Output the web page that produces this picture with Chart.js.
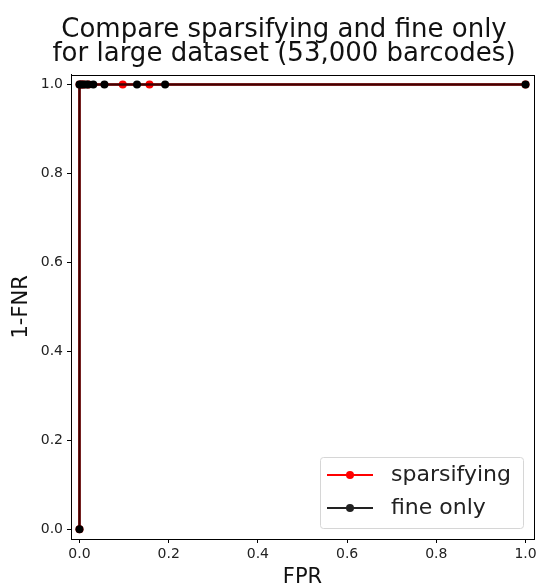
<!DOCTYPE html>
<html>
<head>
<meta charset="utf-8">
<script src="https://cdn.jsdelivr.net/npm/chart.js@4"></script>
<style>
html,body{margin:0;padding:0;background:#fff;}
#wrap{width:559px;height:588px;}
</style>
</head>
<body>
<div id="wrap"><canvas id="c" width="559" height="588"></canvas></div>
<script>
const titleLines = ["Compare sparsifying and fine only", "for large dataset (53,000 barcodes)"];
const xLabel = "FPR";
const yLabel = "1-FNR";
const tickValues = [0, 0.2, 0.4, 0.6, 0.8, 1.0];
const sparsFPR = [0, 0, 0.005, 0.01, 0.02, 0.097, 0.157, 1.0];
const sparsTPR = [0, 1, 1, 1, 1, 1, 1, 1];
const fineFPR = [0, 0, 0.004, 0.009, 0.015, 0.02, 0.031, 0.056, 0.129, 0.192, 1.0];
const fineTPR = [0, 1, 1, 1, 1, 1, 1, 1, 1, 1, 1];
const seriesNames = ["sparsifying", "fine only"];

const toPts = (xs, ys) => xs.map((x, i) => ({x: x, y: ys[i]}));
const FONT = "'DejaVu Sans', sans-serif";

const framePlugin = {
  id: 'frame',
  afterDraw(chart) {
    const {ctx, chartArea: a} = chart;
    ctx.save();
    ctx.strokeStyle = '#000';
    ctx.lineWidth = 1;
    ctx.strokeRect(Math.round(a.left) + 0.5, Math.round(a.top) + 0.5, Math.round(a.right - a.left), Math.round(a.bottom - a.top));
    // legend (matplotlib style, lower right inside axes)
    const bx = 320, by = a.bottom - 82, bw = 203, bh = 71;
    ctx.fillStyle = 'rgba(255,255,255,0.8)';
    ctx.strokeStyle = '#d6d6d6';
    ctx.lineWidth = 1;
    ctx.beginPath();
    if (ctx.roundRect) ctx.roundRect(bx + 0.5, by + 0.5, bw, bh, 3); else ctx.rect(bx + 0.5, by + 0.5, bw, bh);
    ctx.fill(); ctx.stroke();
    chart.data.datasets.forEach((ds, i) => {
      const ly = by + 18 + i * 33;
      ctx.strokeStyle = ds.legendColor;
      ctx.lineWidth = 2;
      ctx.beginPath(); ctx.moveTo(bx + 7, ly); ctx.lineTo(bx + 53, ly); ctx.stroke();
      ctx.fillStyle = ds.legendColor;
      ctx.beginPath(); ctx.arc(bx + 30, ly, 4, 0, Math.PI * 2); ctx.fill();
      ctx.fillStyle = '#222';
      ctx.font = "22px " + FONT;
      ctx.textBaseline = 'middle';
      ctx.textAlign = 'left';
      ctx.fillText(ds.label, bx + 71, ly);
    });
    ctx.restore();
  }
};

new Chart(document.getElementById('c'), {
  type: 'scatter',
  data: {
    datasets: [
      {label: seriesNames[0], data: toPts(sparsFPR, sparsTPR), showLine: true,
       borderColor: '#ff0000', backgroundColor: '#ff0000', borderWidth: 2.5,
       pointRadius: 4, pointHoverRadius: 4, pointBorderWidth: 0, legendColor: '#ff0000', order: 2},
      {label: seriesNames[1], data: toPts(fineFPR, fineTPR), showLine: true,
       borderColor: 'rgba(0,0,0,0.75)', backgroundColor: '#000000', borderWidth: 2.5,
       pointBackgroundColor: '#000000',
       pointRadius: 4, pointHoverRadius: 4, pointBorderWidth: 0, legendColor: '#222222', order: 1}
    ]
  },
  options: {
    responsive: false,
    animation: false,
    devicePixelRatio: 1,
    layout: {padding: {left: 9, right: 0, top: 0, bottom: 0}},
    plugins: {
      legend: {display: false},
      tooltip: {enabled: false},
      title: {display: true, text: titleLines, color: '#111',
        font: {family: FONT, size: 26, weight: 'normal', lineHeight: 0.9},
        padding: {top: 19, bottom: 9}}
    },
    scales: {
      x: {
        type: 'linear', position: 'bottom', min: -0.019, max: 1.019,
        afterBuildTicks(s) { s.ticks = tickValues.map(v => ({value: v})); },
        afterFit(s) { s.height = 49; },
        border: {display: true, color: '#000', width: 1},
        grid: {display: true, drawOnChartArea: false, drawTicks: true, tickLength: 4, color: '#000'},
        ticks: {color: '#222', font: {family: FONT, size: 14}, padding: 3, maxRotation: 0,
          callback: v => Number(v).toFixed(1)},
        title: {display: true, text: xLabel, color: '#111', font: {family: FONT, size: 21, lineHeight: 1}, padding: {top: 0, bottom: 0}}
      },
      y: {
        type: 'linear', position: 'left', min: -0.022, max: 1.022,
        afterBuildTicks(s) { s.ticks = tickValues.map(v => ({value: v})); },
        afterFit(s) { s.width = 62; },
        border: {display: true, color: '#000', width: 1},
        grid: {display: true, drawOnChartArea: false, drawTicks: true, tickLength: 4, color: '#000'},
        ticks: {color: '#222', font: {family: FONT, size: 14}, padding: 4,
          callback: v => Number(v).toFixed(1)},
        title: {display: true, text: yLabel, color: '#111', font: {family: FONT, size: 21, lineHeight: 1}, padding: {top: 2, bottom: 0}}
      },
      y2: {
        type: 'linear', position: 'right', min: 0, max: 1,
        afterFit(s) { s.width = 25; },
        border: {display: false},
        grid: {display: false},
        ticks: {display: false}
      }
    }
  },
  plugins: [framePlugin]
});
</script>
</body>
</html>
